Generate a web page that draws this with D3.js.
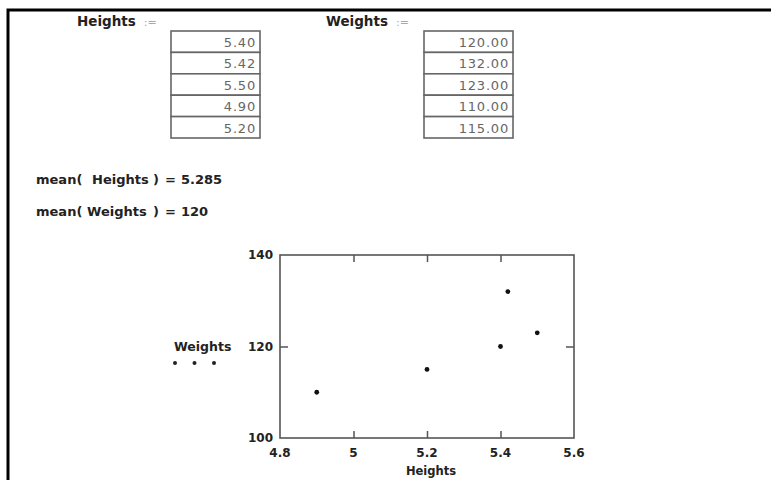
<!DOCTYPE html>
<html>
<head>
<meta charset="utf-8">
<script src="https://cdn.jsdelivr.net/npm/d3@7"></script>
<style>
  body { margin: 0; background: #fff; }
  text { font-family: "DejaVu Sans", sans-serif; }
</style>
</head>
<body>
<div id="sheet"></div>
<script>
var heights = [5.40, 5.42, 5.50, 4.90, 5.20];
var weights = [120.00, 132.00, 123.00, 110.00, 115.00];
var xTicks = [4.8, 5, 5.2, 5.4, 5.6];
var yTicks = [100, 120, 140];
var meanLabels = ["5.285", "120"];

var svgWidth = 771, svgHeight = 480;

var svg = d3.select("#sheet")
    .append("svg")
        .attr("width", svgWidth)
        .attr("height", svgHeight);

// page frame (top and left edges)
svg.append("path")
    .attr("d", "M8,480 V10 H771")
    .attr("fill", "none")
    .attr("stroke", "#000")
    .attr("stroke-width", 3);

// --- input tables ---
function drawTable(label, labelX, tableX, values) {
    var rowH = 21.4, w = 89, top = 31;
    var lab = svg.append("text")
        .attr("x", labelX).attr("y", 26)
        .attr("font-size", 13.5).attr("font-weight", "bold")
        .attr("fill", "#222")
        .text(label);
    var lw = lab.node().getComputedTextLength();
    svg.append("text")
        .attr("x", labelX + lw + 8).attr("y", 26)
        .attr("font-size", 11).attr("fill", "#aaa")
        .text(":=");

    var g = svg.append("g").attr("transform", `translate(${tableX},${top})`);
    g.selectAll("rect")
        .data(values)
        .enter()
        .append("rect")
            .attr("x", 0)
            .attr("y", function(d, i) { return i * rowH; })
            .attr("width", w)
            .attr("height", rowH)
            .attr("fill", "#fff")
            .attr("stroke", "#666")
            .attr("stroke-width", 1.6);
    g.selectAll("text")
        .data(values)
        .enter()
        .append("text")
            .attr("x", w - 4)
            .attr("y", function(d, i) { return i * rowH + 16; })
            .attr("text-anchor", "end")
            .attr("font-size", 13)
            .attr("letter-spacing", 0.8)
            .attr("fill", "#666")
            .text(function(d) { return d3.format(".2f")(d); });
}
drawTable("Heights", 77, 171, heights);
drawTable("Weights", 326, 424, weights);

// --- mean results ---
function meanLine(name, nameX, value, yPos) {
    var parts = [["mean(", 36], [name, nameX], [")", 153], ["=", 165], [value, 181]];
    svg.selectAll(".m" + name)
        .data(parts)
        .enter()
        .append("text")
            .attr("class", "m" + name)
            .attr("x", function(d) { return d[1]; })
            .attr("y", yPos)
            .attr("font-size", 13).attr("font-weight", "bold").attr("fill", "#222")
            .text(function(d) { return d[0]; });
}
meanLine("Heights", 92, meanLabels[0], 184);
meanLine("Weights", 87, meanLabels[1], 216);

// --- scatter plot ---
var plot = { left: 280, top: 255, right: 574, bottom: 438 };

var x = d3.scaleLinear().domain([4.8, 5.6]).range([plot.left, plot.right]);
var y = d3.scaleLinear().domain([100, 140]).range([plot.bottom, plot.top]);

svg.append("rect")
    .attr("x", plot.left).attr("y", plot.top)
    .attr("width", plot.right - plot.left)
    .attr("height", plot.bottom - plot.top)
    .attr("fill", "none")
    .attr("stroke", "#555")
    .attr("stroke-width", 1.6);

// inner ticks on top and bottom
var innerX = xTicks.slice(1, -1);
svg.append("g")
    .attr("transform", `translate(0,${plot.bottom})`)
    .call(d3.axisTop(x).tickValues(innerX).tickSize(7).tickFormat(""))
    .call(function(g) { g.select(".domain").remove(); })
    .selectAll("line").attr("stroke", "#555").attr("stroke-width", 1.5);
svg.append("g")
    .attr("transform", `translate(0,${plot.top})`)
    .call(d3.axisBottom(x).tickValues(innerX).tickSize(7).tickFormat(""))
    .call(function(g) { g.select(".domain").remove(); })
    .selectAll("line").attr("stroke", "#555").attr("stroke-width", 1.5);
// inner ticks on left and right
var innerY = yTicks.slice(1, -1);
svg.append("g")
    .attr("transform", `translate(${plot.left},0)`)
    .call(d3.axisRight(y).tickValues(innerY).tickSize(8).tickFormat(""))
    .call(function(g) { g.select(".domain").remove(); })
    .selectAll("line").attr("stroke", "#555").attr("stroke-width", 1.5);
svg.append("g")
    .attr("transform", `translate(${plot.right},0)`)
    .call(d3.axisLeft(y).tickValues(innerY).tickSize(8).tickFormat(""))
    .call(function(g) { g.select(".domain").remove(); })
    .selectAll("line").attr("stroke", "#555").attr("stroke-width", 1.5);

// tick labels
svg.selectAll(".xlab")
    .data(xTicks)
    .enter()
    .append("text")
        .attr("class", "xlab")
        .attr("x", function(d) { return x(d); })
        .attr("y", plot.bottom + 19)
        .attr("text-anchor", "middle")
        .attr("font-size", 12).attr("font-weight", "bold").attr("fill", "#222")
        .text(function(d) { return d; });
svg.selectAll(".ylab")
    .data(yTicks)
    .enter()
    .append("text")
        .attr("class", "ylab")
        .attr("x", plot.left - 7)
        .attr("y", function(d) { return y(d) + 4; })
        .attr("text-anchor", "end")
        .attr("font-size", 12).attr("font-weight", "bold").attr("fill", "#222")
        .text(function(d) { return d; });

// axis titles
svg.append("text")
    .attr("x", 431).attr("y", 475)
    .attr("text-anchor", "middle")
    .attr("font-size", 11.5).attr("font-weight", "bold").attr("fill", "#222")
    .text("Heights");
svg.append("text")
    .attr("x", 174).attr("y", 351)
    .attr("font-size", 12.5).attr("font-weight", "bold").attr("fill", "#222")
    .text("Weights");
// legend marker under the y title
svg.selectAll(".legdot")
    .data([0, 1, 2])
    .enter()
    .append("circle")
        .attr("class", "legdot")
        .attr("cx", function(d) { return 175 + d * 19.5; })
        .attr("cy", 363)
        .attr("r", 2)
        .attr("fill", "#222");

// points
svg.selectAll(".pt")
    .data(heights)
    .enter()
    .append("circle")
        .attr("class", "pt")
        .attr("cx", function(d) { return x(d); })
        .attr("cy", function(d, i) { return y(weights[i]); })
        .attr("r", 2.4)
        .attr("fill", "#111");
</script>
</body>
</html>
